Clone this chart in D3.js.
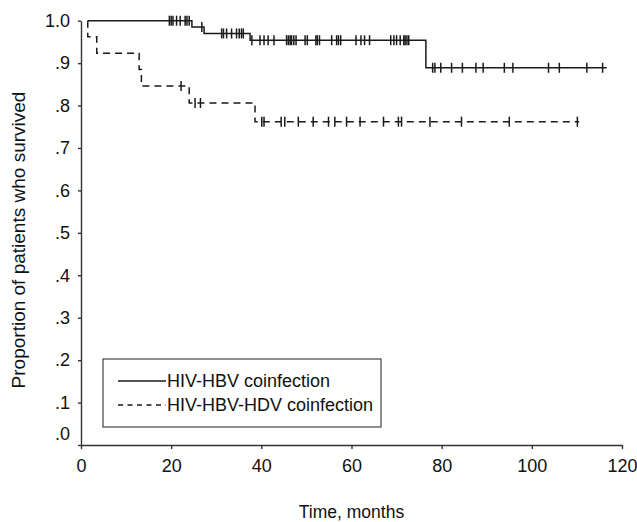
<!DOCTYPE html>
<html>
<head>
<meta charset="utf-8">
<script src="https://cdn.jsdelivr.net/npm/d3@7"></script>
<style>
  body { margin: 0; background: #fff; }
  text { font-family: "Liberation Sans", Arial, sans-serif; fill: #111; }
</style>
</head>
<body>
<script>
// step points of the two survival curves (time in months, proportion surviving)
var solidTimes = [1.5, 24.6, 27.3, 37.5, 76.5, 116.6];
var solidSurv  = [1.0, 0.985, 0.970, 0.954, 0.889, 0.889];
var dashTimes  = [1.5, 1.5, 3.5, 12.9, 13.4, 24.0, 38.6, 110.5];
var dashSurv   = [1.0, 0.962, 0.923, 0.885, 0.846, 0.806, 0.762, 0.762];

// censored observations (time in months)
var solidCensor = [19.6, 20.0, 20.4, 21.2, 22.0, 23.1, 23.5, 24.0, 26.8,
    31.2, 31.6, 32.3, 33.4, 34.5, 35.1, 35.6, 36.0,
    37.9, 39.7, 40.6, 41.5, 42.8, 45.6, 46.0, 46.4, 46.7, 47.2, 47.7, 49.7, 50.2,
    52.1, 52.4, 52.9, 55.6, 56.7, 57.1, 57.6, 61.0, 62.1, 62.9, 64.0,
    68.7, 69.4, 70.0, 70.8, 71.6, 71.9, 72.3, 72.7,
    78.0, 78.5, 79.8, 82.2, 84.6, 87.6, 89.2, 93.9, 95.8, 103.7, 106.1, 112.2, 115.7];
var dashCensor = [22.2, 25.3, 26.5, 40.1, 40.6, 44.4, 45.2, 48.2, 51.5, 54.9, 56.3,
    58.9, 61.9, 67.1, 70.4, 71.1, 77.4, 84.4, 95.0, 110.1];

var xTicks = [0, 20, 40, 60, 80, 100, 120];
var yTicks = [0, 0.1, 0.2, 0.3, 0.4, 0.5, 0.6, 0.7, 0.8, 0.9, 1.0];
var legendLabels = ["HIV-HBV coinfection", "HIV-HBV-HDV coinfection"];

var width = 637, height = 522;

var svg = d3.select("body").append("svg")
    .attr("width", width)
    .attr("height", height);

var x = d3.scaleLinear().domain([0, 120]).range([81, 622]);
var y = d3.scaleLinear().domain([0, 1]).range([445, 20.7]);

//axes
var xAxis = svg.append("g")
    .attr("transform", "translate(0," + y(0) + ")")
    .call(d3.axisBottom(x).tickValues(xTicks).tickSize(4).tickSizeOuter(0).tickPadding(10));

var yAxis = svg.append("g")
    .attr("transform", "translate(" + x(0) + ",0)")
    .call(d3.axisLeft(y).tickValues(yTicks).tickSize(3).tickSizeOuter(0).tickPadding(8)
        .tickFormat(function(d){ return d3.format(".1f")(d).replace(/^0/, ""); }));

svg.selectAll(".domain, .tick line")
    .attr("stroke", "#333")
    .attr("stroke-width", 1.4);
svg.selectAll(".tick text")
    .attr("font-size", 18)
    .attr("fill", "#111")
    .attr("font-family", "Liberation Sans, Arial, sans-serif");
// lift the ".0" label off the x axis
yAxis.selectAll(".tick text").filter(function(d){ return d === 0; })
    .attr("dy", "-0.3em");

//survival curves
var line = d3.line()
    .x(function(d){ return x(d[0]); })
    .y(function(d){ return y(d[1]); })
    .curve(d3.curveStepAfter);

var solidData = d3.zip(solidTimes, solidSurv);
var dashData = d3.zip(dashTimes, dashSurv);

svg.append("path")
    .datum(solidData)
    .attr("d", line)
    .attr("fill", "none")
    .attr("stroke", "#1a1a1a")
    .attr("stroke-width", 1.5);

svg.append("path")
    .datum(dashData)
    .attr("d", line)
    .attr("fill", "none")
    .attr("stroke", "#1a1a1a")
    .attr("stroke-width", 1.5)
    .attr("stroke-dasharray", "7,5");

//survival value at a censor time = level of the step in force
function levelAt(times, surv, t){
    var i = d3.bisectRight(times, t) - 1;
    return surv[Math.max(0, i)];
}

function drawCensor(list, times, surv){
    svg.append("g").selectAll("line")
        .data(list)
        .enter()
        .append("line")
        .attr("x1", function(d){ return x(d); })
        .attr("x2", function(d){ return x(d); })
        .attr("y1", function(d){ return y(levelAt(times, surv, d)) - 5; })
        .attr("y2", function(d){ return y(levelAt(times, surv, d)) + 5; })
        .attr("stroke", "#1a1a1a")
        .attr("stroke-width", 1.5);
}
drawCensor(solidCensor, solidTimes, solidSurv);
drawCensor(dashCensor, dashTimes, dashSurv);

//axis titles
svg.append("text")
    .attr("x", (x(0) + x(120)) / 2)
    .attr("y", 518)
    .attr("text-anchor", "middle")
    .attr("font-size", 17.5)
    .text("Time, months");

svg.append("text")
    .attr("transform", "translate(25,240) rotate(-90)")
    .attr("text-anchor", "middle")
    .attr("font-size", 19)
    .text("Proportion of patients who survived");

//legend
var legend = svg.append("g");
legend.append("rect")
    .attr("x", 103)
    .attr("y", 359)
    .attr("width", 278)
    .attr("height", 68)
    .attr("fill", "#fff")
    .attr("stroke", "#444")
    .attr("stroke-width", 1.2);

legend.selectAll(".key")
    .data(legendLabels)
    .enter()
    .append("line")
    .attr("x1", 118)
    .attr("x2", 166)
    .attr("y1", function(d, i){ return 381 + i * 24; })
    .attr("y2", function(d, i){ return 381 + i * 24; })
    .attr("stroke", "#1a1a1a")
    .attr("stroke-width", 1.3)
    .attr("stroke-dasharray", function(d, i){ return i ? "5,4.5" : null; });

legend.selectAll(".lab")
    .data(legendLabels)
    .enter()
    .append("text")
    .attr("x", 167)
    .attr("y", function(d, i){ return 381 + i * 24; })
    .attr("dy", "0.36em")
    .attr("font-size", 18)
    .text(function(d){ return d; });
</script>
</body>
</html>
